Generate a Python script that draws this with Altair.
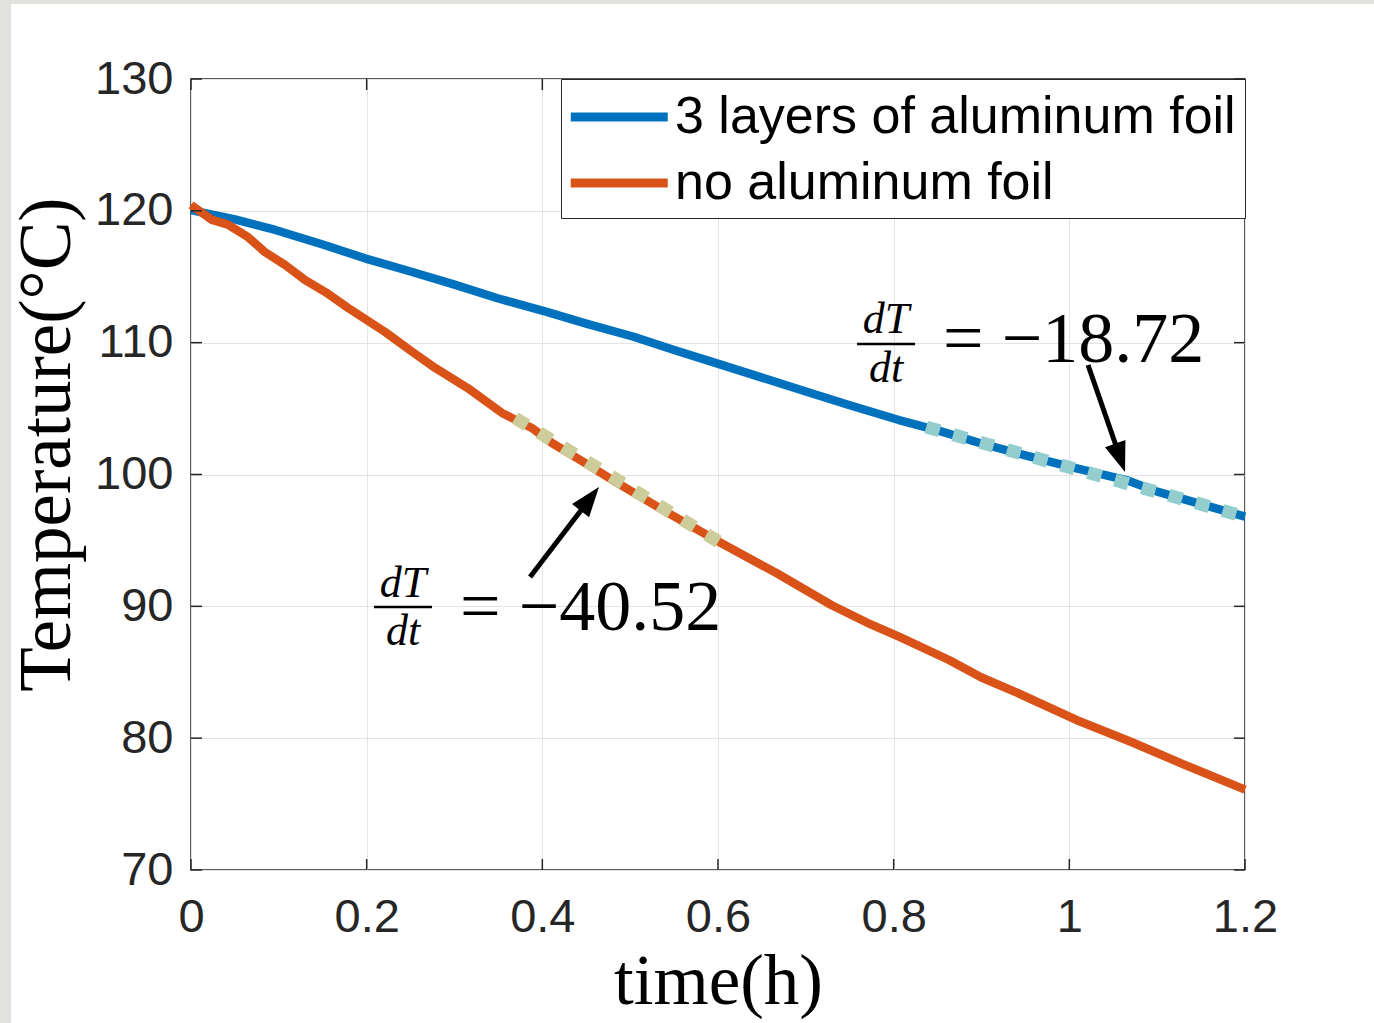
import altair as alt
import pandas as pd

# ---------------- data ----------------
series_names = ["3 layers of aluminum foil", "no aluminum foil"]
series_colors = ["#0072BD", "#D95319"]
fit_colors = ["#93CDCD", "#CDCD9C"]

time_foil = [0.0, 0.05, 0.096, 0.15, 0.198, 0.25, 0.3, 0.35, 0.404, 0.45, 0.504,
             0.55, 0.605, 0.65, 0.7, 0.75, 0.806, 0.85, 0.9, 0.95, 1.0, 1.065,
             1.1, 1.15, 1.2]
temp_foil = [120.05, 119.35, 118.55, 117.45, 116.4, 115.4, 114.4, 113.35, 112.35,
             111.45, 110.45, 109.45, 108.3, 107.35, 106.3, 105.25, 104.13, 103.35,
             102.35, 101.45, 100.6, 99.58, 98.7, 97.75, 96.8]

time_nofoil = [0.0, 0.024, 0.042, 0.065, 0.084, 0.107, 0.130, 0.153, 0.179, 0.200,
               0.221, 0.252, 0.278, 0.315, 0.354, 0.388, 0.411, 0.448, 0.480, 0.540,
               0.604, 0.667, 0.729, 0.770, 0.806, 0.863, 0.900, 0.941, 1.008, 1.070,
               1.132, 1.200]
temp_nofoil = [120.45, 119.31, 118.95, 118.0, 116.88, 115.9, 114.75, 113.84, 112.63,
               111.72, 110.81, 109.3, 108.08, 106.56, 104.67, 103.53, 102.39, 100.9,
               99.58, 97.2, 94.78, 92.51, 90.1, 88.75, 87.7, 85.93, 84.6, 83.43,
               81.38, 79.73, 77.96, 76.1]

fit_time = [[0.837, 1.2], [0.369, 0.602]]
fit_temp = [[103.6, 96.8], [104.29, 94.85]]

x_ticks = [0, 0.2, 0.4, 0.6, 0.8, 1.0, 1.2]
y_ticks = [70, 80, 90, 100, 110, 120, 130]

# annotations (slope labels) placed in data coordinates
ann_num = ["dT", "dT"]
ann_den = ["dt", "dt"]
ann_value = ["= \u221218.72", "= \u221240.52"]
frac_x = [0.7913, 0.2414]
num_y = [110.73, 90.71]
den_y = [107.02, 87.07]
bar_x1 = [0.7583, 0.2083]
bar_x2 = [0.8243, 0.2744]
bar_y = [109.90, 89.95]
eq_x = [0.8562, 0.3063]
eq_y = [108.53, 88.21]
arrow_x1 = [1.0213, 0.3860]
arrow_y1 = [108.31, 92.23]
arrow_x2 = [1.0579, 0.4540]
arrow_y2 = [101.27, 98.15]
tip_x = [1.0634, 0.4645]
tip_y = [100.19, 99.05]
tip_angle = [160.9, 37.9]

# ---------------- tables ----------------
lines_df = pd.concat([
    pd.DataFrame({"time": time_foil, "temp": temp_foil, "series": series_names[0]}),
    pd.DataFrame({"time": time_nofoil, "temp": temp_nofoil, "series": series_names[1]}),
], ignore_index=True)

fit_df = pd.concat([
    pd.DataFrame({"time": fit_time[i], "temp": fit_temp[i], "fit": series_names[i]})
    for i in range(2)
], ignore_index=True)

ann_df = pd.DataFrame({
    "num": ann_num, "den": ann_den, "val": ann_value,
    "fx": frac_x, "ny": num_y, "dy": den_y,
    "bx1": bar_x1, "bx2": bar_x2, "by": bar_y,
    "ex": eq_x, "ey": eq_y,
    "ax1": arrow_x1, "ay1": arrow_y1, "ax2": arrow_x2, "ay2": arrow_y2,
    "tx": tip_x, "ty": tip_y, "ang": tip_angle,
})

xt_df = pd.DataFrame({"v": x_ticks})
yt_df = pd.DataFrame({"v": y_ticks})

W, H = 1054, 791
xs = alt.Scale(domain=[0, 1.2], nice=False, zero=False)
ys = alt.Scale(domain=[70, 130], nice=False, zero=False)

DARK = "#262626"
X_TITLE = "time(h)"
Y_TITLE = "Temperature(\u00b0C)"

x_axis = alt.Axis(
    values=x_ticks, format="~g", grid=True, gridColor="#e3e3e3", gridWidth=1,
    ticks=False, domain=False, labelFont="Liberation Sans", labelFontSize=47,
    labelColor=DARK, labelPadding=24, labelFlush=False, labelOverlap=False,
    titleFont="Liberation Serif", titleFontSize=71,
    titleFontWeight="normal", titleColor="black", titleX=527, titleY=133,
    titleAlign="center", titleBaseline="alphabetic",
)
y_axis = alt.Axis(
    values=y_ticks, grid=True, gridColor="#e3e3e3", gridWidth=1,
    ticks=False, domain=False, labelFont="Liberation Sans", labelFontSize=47,
    labelColor=DARK, labelPadding=18, labelFlush=False, labelOverlap=False,
    titleFont="Liberation Serif", titleFontSize=73,
    titleFontWeight="normal", titleColor="black", titleX=-122, titleY=365,
    titleAngle=270, titleAlign="center", titleBaseline="alphabetic",
)


def X(field):
    return alt.X(field, scale=xs, axis=x_axis, title=X_TITLE)


def Y(field):
    return alt.Y(field, scale=ys, axis=y_axis, title=Y_TITLE)


lines = alt.Chart(lines_df).mark_line(strokeWidth=8.5, strokeJoin="round").encode(
    x=X("time:Q"),
    y=Y("temp:Q"),
    color=alt.Color(
        "series:N",
        scale=alt.Scale(domain=series_names, range=series_colors),
        sort=series_names,
        legend=alt.Legend(
            title=None, orient="top-right", offset=0,
            symbolType="M-1.165,0L2.835,0", symbolSize=2352, symbolStrokeWidth=9,
            labelFont="Liberation Sans", labelFontSize=52, labelColor="black",
            labelLimit=1000, labelOffset=47, padding=9, rowPadding=11,
            strokeColor=DARK, fillColor="white",
        ),
    ),
    detail="series:N",
)

# gray frame strips of the screenshot (decoration)
strip_left = alt.Chart(yt_df).mark_rect(color="#e1e1dd").encode(
    x=alt.value(-191), x2=alt.value(-180), y=alt.value(-79), y2=alt.value(944))
strip_top = alt.Chart(yt_df).mark_rect(color="#e1e1dd").encode(
    x=alt.value(-191), x2=alt.value(1183), y=alt.value(-79), y2=alt.value(-75))

fits = alt.Chart(fit_df).mark_line(strokeWidth=13, strokeDash=[14, 14], strokeCap="butt").encode(
    x=X("time:Q"),
    y=Y("temp:Q"),
    stroke=alt.Stroke("fit:N", scale=alt.Scale(domain=series_names, range=fit_colors), legend=None),
)

base_ann = alt.Chart(ann_df)
num_text = base_ann.mark_text(font="Liberation Serif", fontSize=44, fontStyle="italic",
                              align="center", baseline="alphabetic", color="black").encode(
    x=X("fx:Q"), y=Y("ny:Q"), text="num:N")
den_text = base_ann.mark_text(font="Liberation Serif", fontSize=44, fontStyle="italic",
                              align="center", baseline="alphabetic", color="black").encode(
    x=X("fx:Q"), y=Y("dy:Q"), text="den:N")
bar = base_ann.mark_rule(strokeWidth=2.5, color="black").encode(
    x=X("bx1:Q"), x2="bx2:Q", y=Y("by:Q"))
val_text = base_ann.mark_text(font="Liberation Serif", fontSize=72,
                              align="left", baseline="alphabetic", color="black").encode(
    x=X("ex:Q"), y=Y("ey:Q"), text="val:N")
shaft = base_ann.mark_rule(strokeWidth=5, color="black").encode(
    x=X("ax1:Q"), x2="ax2:Q", y=Y("ay1:Q"), y2="ay2:Q")
head = base_ann.mark_point(shape="M0,0L-0.36,1L0.36,1Z", filled=True, size=3600,
                           color="black", opacity=1).encode(
    x=X("tx:Q"), y=Y("ty:Q"), angle=alt.Angle("ang:Q", scale=None))

# MATLAB-style inner ticks on all four sides
tick_kw = dict(color=DARK, thickness=1.5, size=11, opacity=1)
yt_left = alt.Chart(yt_df).mark_tick(orient="horizontal", **tick_kw).encode(
    y=Y("v:Q"), x=alt.value(5.5))
yt_right = alt.Chart(yt_df).mark_tick(orient="horizontal", **tick_kw).encode(
    y=Y("v:Q"), x=alt.value(W - 5.5))
xt_bottom = alt.Chart(xt_df).mark_tick(orient="vertical", **tick_kw).encode(
    x=X("v:Q"), y=alt.value(H - 5.5))
xt_top = alt.Chart(xt_df).mark_tick(orient="vertical", **tick_kw).encode(
    x=X("v:Q"), y=alt.value(5.5))

chart = alt.layer(
    lines, strip_left, strip_top, yt_left, yt_right, xt_bottom, xt_top,
    fits, bar, num_text, den_text, val_text, shaft, head,
).properties(
    width=W, height=H,
    autosize=alt.AutoSizeParams(type="none"),
    padding={"left": 191, "top": 79, "right": 129, "bottom": 153},
    background="white",
).configure_view(
    stroke=DARK, strokeWidth=1.5, fill="white"
)

chart.save("out.html", embed_options={"renderer": "svg", "actions": False})
